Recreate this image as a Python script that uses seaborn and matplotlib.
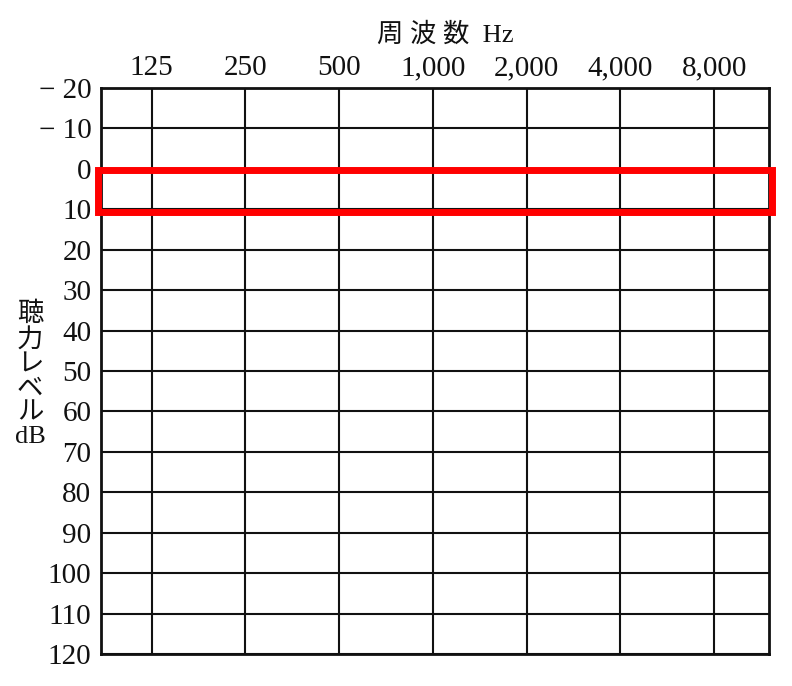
import matplotlib
matplotlib.use("Agg")
import matplotlib.pyplot as plt
import matplotlib.transforms as mtransforms
from matplotlib.patches import Rectangle
import seaborn as sns

# 周波数 (Hz) と聴力レベル (dB)
freqs = [125, 250, 500, 1000, 2000, 4000, 8000]
freq_labels = ['125', '250', '500', '1,000', '2,000', '4,000', '8,000']
db_levels = list(range(-20, 121, 10))
db_labels = ['− 20', '− 10'] + [str(v) for v in db_levels[2:]]
highlight_db = [0, 10]

sns.set_style("white")
plt.rcParams['font.family'] = ['Liberation Serif', 'Noto Sans CJK JP']

fig = plt.figure(figsize=(7.92, 6.86), dpi=100)
ax = fig.add_axes([101 / 792, 1 - 654 / 686, 668 / 792, 566 / 686])

ax.set_xscale('log', base=2)
ax.set_xlim(125 / 2 ** 0.54, 8000 * 2 ** 0.585)
ax.set_ylim(120, -20)

ax.set_xticks(freqs)
ax.set_xticklabels(freq_labels)
ax.minorticks_off()
ax.set_yticks(db_levels)
ax.set_yticklabels(db_labels)
ax.xaxis.tick_top()
ax.tick_params(axis='x', length=0, pad=5, labelsize=21, colors='#111111')
ax.tick_params(axis='y', length=0, pad=7, labelsize=21, colors='#111111')

ax.grid(True, color='#111111', linewidth=1.5)
for s in ax.spines.values():
    s.set_color('#111111')
    s.set_linewidth(2)

# 赤枠 (0〜10 dB)
trans = mtransforms.blended_transform_factory(ax.transAxes, ax.transData)
ax.add_patch(Rectangle((-0.004, highlight_db[0] + 0.3), 1.008,
                       highlight_db[1] - highlight_db[0] + 0.4,
                       transform=trans, fill=False, edgecolor='#ff0000',
                       linewidth=5, clip_on=False, zorder=5))

fig.text(445 / 792, 1 - 35 / 686, '周 波 数  Hz', ha='center', va='center',
         fontsize=19, color='#111111')
fig.text(30 / 792, 1 - 375 / 686, '聴\n力\nレ\nベ\nル\ndB', ha='center',
         va='center', fontsize=19, linespacing=1.12, color='#111111')

fig.savefig('out.png', dpi=100)
